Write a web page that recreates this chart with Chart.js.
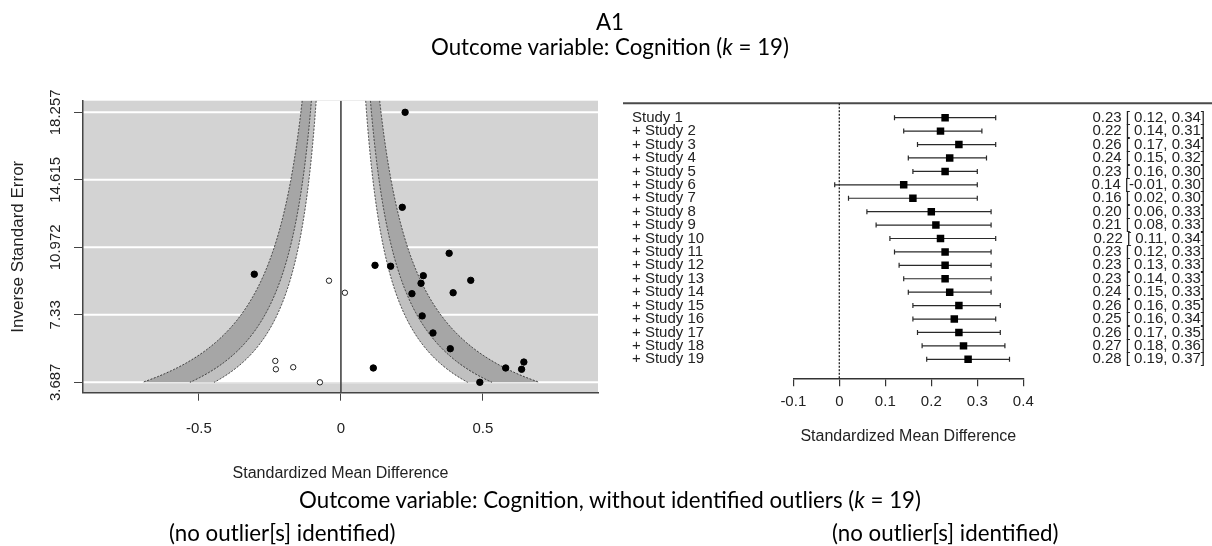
<!DOCTYPE html>
<html>
<head>
<meta charset="utf-8">
<script src="https://cdn.jsdelivr.net/npm/chart.js@4.4.1/dist/chart.umd.min.js"></script>
<style>
  html, body { margin:0; padding:0; background:#fff; }
  #wrap { position:relative; width:1212px; height:546px; overflow:hidden; }
  canvas { position:absolute; left:0; top:0; }
  .ttl { position:absolute; left:0; width:1220px; text-align:center; font-family:"Lato","Open Sans",sans-serif; font-size:22.3px; color:#000; line-height:26px; white-space:nowrap; }
  .sub { position:absolute; font-family:"Lato","Open Sans",sans-serif; font-size:22.3px; color:#000; line-height:26px; white-space:nowrap; }
</style>
</head>
<body>
<div id="wrap">
  <canvas id="funnel" width="1212" height="546"></canvas>
  <canvas id="forest" width="1212" height="546"></canvas>
  <div class="ttl" style="top:9px;">A1</div>
  <div class="ttl" style="top:34px;">Outcome variable: Cognition (<i>k</i> = 19)</div>
  <div class="ttl" style="top:487px;">Outcome variable: Cognition, without identified outliers (<i>k</i> = 19)</div>
  <div class="sub" style="top:520px; left:169px;">(no outlier[s] identified)</div>
  <div class="sub" style="top:520px; left:832px;">(no outlier[s] identified)</div>
</div>
<script>
// ---------------- DATA ----------------
// Funnel plot (trim-and-fill): observed studies
const observedX = [0.226, 0.216, 0.381, 0.120, 0.175, 0.290, 0.457, 0.282, 0.250, 0.395, 0.286, 0.324, 0.385, 0.114, 0.580, 0.644, 0.636, 0.489, -0.305];
const observedY = [18.257, 13.13, 10.65, 10.00, 9.95, 9.44, 9.19, 9.03, 8.47, 8.52, 7.27, 6.35, 5.50, 4.46, 4.46, 4.78, 4.39, 3.687, 9.52];
// Funnel plot: imputed (filled) studies
const imputedX = [-0.042, 0.014, -0.074, -0.231, -0.229, -0.168];
const imputedY = [9.17, 8.52, 3.687, 4.84, 4.39, 4.50];
// Funnel axis ticks
const funnelXTicks = [-0.5, 0, 0.5];
const funnelXTickLabels = ['-0.5', '0', '0.5'];
const funnelYTicks = [3.687, 7.33, 10.972, 14.615, 18.257];
const funnelYTickLabels = ['3.687', '7.33', '10.972', '14.615', '18.257'];
// Contour levels (z for 90%, 95%, 99%) centred at 0
const contourZ = [1.645, 1.96, 2.576];
const contourCenter = 0;

// Cumulative forest plot
const studyLabels = ['Study 1', '+ Study 2', '+ Study 3', '+ Study 4', '+ Study 5', '+ Study 6', '+ Study 7', '+ Study 8', '+ Study 9', '+ Study 10',
  '+ Study 11', '+ Study 12', '+ Study 13', '+ Study 14', '+ Study 15', '+ Study 16', '+ Study 17', '+ Study 18', '+ Study 19'];
const cumEst = [0.23, 0.22, 0.26, 0.24, 0.23, 0.14, 0.16, 0.20, 0.21, 0.22, 0.23, 0.23, 0.23, 0.24, 0.26, 0.25, 0.26, 0.27, 0.28];
const cumLow = [0.12, 0.14, 0.17, 0.15, 0.16, -0.01, 0.02, 0.06, 0.08, 0.11, 0.12, 0.13, 0.14, 0.15, 0.16, 0.16, 0.17, 0.18, 0.19];
const cumHigh = [0.34, 0.31, 0.34, 0.32, 0.30, 0.30, 0.30, 0.33, 0.33, 0.34, 0.33, 0.33, 0.33, 0.33, 0.35, 0.34, 0.35, 0.36, 0.37];
const forestXTicks = [-0.1, 0, 0.1, 0.2, 0.3, 0.4];
const forestXTickLabels = ['-0.1', '0', '0.1', '0.2', '0.3', '0.4'];

// ---------------- STYLE ----------------
const AX_FONT = 'Liberation Sans, Arial, sans-serif';
const TXT = '#222';
const BG = '#d3d3d3';
const BAND_INNER = '#c0c0c0';
const BAND_OUTER = '#a6a6a6';

function labelFor(ticks, labels, v) {
  const i = ticks.findIndex(t => Math.abs(t - v) < 1e-6);
  return i >= 0 ? labels[i] : '';
}

// ---------------- FUNNEL ----------------
const funnelPlugin = {
  id: 'funnelBg',
  beforeDraw(chart) {
    const {ctx, chartArea: a, scales: {x, y}} = chart;
    ctx.save();
    ctx.fillStyle = BG;
    ctx.fillRect(a.left, a.top, a.right - a.left, a.bottom - a.top);
    ctx.beginPath();
    ctx.rect(a.left, a.top, a.right - a.left, a.bottom - a.top);
    ctx.clip();
    // white reference lines
    ctx.strokeStyle = '#fff';
    ctx.lineWidth = 2;
    funnelYTicks.forEach(v => {
      const py = y.getPixelForValue(v);
      ctx.beginPath(); ctx.moveTo(a.left, py); ctx.lineTo(a.right, py); ctx.stroke();
    });
    const yMin = Math.min(...observedY, ...imputedY);
    const pyLow = y.getPixelForValue(yMin);
    const curve = (z, sign) => {
      const pts = [];
      for (let py = a.top; py < pyLow; py += 1) {
        const v = y.getValueForPixel(py);
        pts.push([x.getPixelForValue(contourCenter + sign * z / v), py]);
      }
      pts.push([x.getPixelForValue(contourCenter + sign * z / yMin), pyLow]);
      return pts;
    };
    const fills = [[contourZ[2], BAND_OUTER], [contourZ[1], BAND_INNER], [contourZ[0], '#ffffff']];
    fills.forEach(([z, col]) => {
      const r = curve(z, 1), l = curve(z, -1).reverse();
      ctx.beginPath();
      r.forEach((p, i) => i ? ctx.lineTo(p[0], p[1]) : ctx.moveTo(p[0], p[1]));
      l.forEach(p => ctx.lineTo(p[0], p[1]));
      ctx.closePath();
      ctx.fillStyle = col;
      ctx.fill();
    });
    ctx.setLineDash([2, 1.5]);
    ctx.strokeStyle = '#3a3a3a';
    ctx.lineWidth = 1;
    contourZ.forEach(z => {
      [1, -1].forEach(s => {
        const c = curve(z, s);
        ctx.beginPath();
        c.forEach((p, i) => i ? ctx.lineTo(p[0], p[1]) : ctx.moveTo(p[0], p[1]));
        ctx.stroke();
      });
    });
    ctx.setLineDash([]);
    // vertical reference line at 0
    const px0 = x.getPixelForValue(contourCenter);
    ctx.strokeStyle = '#444';
    ctx.lineWidth = 1.6;
    ctx.beginPath(); ctx.moveTo(px0, a.top); ctx.lineTo(px0, a.bottom); ctx.stroke();
    ctx.restore();
  }
};

new Chart(document.getElementById('funnel'), {
  type: 'scatter',
  data: {
    datasets: [
      { label: 'Observed studies', data: observedX.map((v, i) => ({x: v, y: observedY[i]})),
        pointRadius: 3.2, pointHoverRadius: 3.2, backgroundColor: '#000', borderColor: '#000', borderWidth: 1 },
      { label: 'Imputed studies', data: imputedX.map((v, i) => ({x: v, y: imputedY[i]})),
        pointRadius: 2.7, pointHoverRadius: 2.7, backgroundColor: '#fff', borderColor: '#222', borderWidth: 1 }
    ]
  },
  options: {
    responsive: false, animation: false, devicePixelRatio: 1,
    layout: { padding: { left: 0, right: 614, top: 100.7, bottom: 63.3 } },
    plugins: { legend: { display: false }, tooltip: { enabled: false } },
    scales: {
      x: {
        type: 'linear', min: -0.908, max: 0.905,
        afterBuildTicks: s => { s.ticks = funnelXTicks.map(v => ({value: v})); },
        afterFit: s => { s.height = 90; },
        ticks: { callback: v => labelFor(funnelXTicks, funnelXTickLabels, v), font: {family: AX_FONT, size: 15}, color: TXT, padding: 19, maxRotation: 0, autoSkip: false },
        grid: { drawOnChartArea: false, drawTicks: true, tickLength: 8, color: '#444', lineWidth: 1 },
        border: { display: true, color: '#444', width: 1.5 },
        title: { display: true, text: 'Standardized Mean Difference', font: {family: AX_FONT, size: 16}, color: TXT, padding: {top: 0, bottom: 0} }
      },
      y: {
        type: 'linear', min: 3.126, max: 18.883,
        afterBuildTicks: s => { s.ticks = funnelYTicks.map(v => ({value: v})); },
        afterFit: s => { s.width = 83; },
        ticks: { callback: v => labelFor(funnelYTicks, funnelYTickLabels, v), font: {family: AX_FONT, size: 15}, color: TXT, minRotation: 90, maxRotation: 90, crossAlign: 'center', padding: -5, autoSkip: false },
        grid: { drawOnChartArea: false, drawTicks: true, tickLength: 9, color: '#444', lineWidth: 1 },
        border: { display: true, color: '#444', width: 1.5 },
        title: { display: true, text: 'Inverse Standard Error', font: {family: AX_FONT, size: 17}, color: TXT, padding: {top: 8, bottom: 0} }
      }
    }
  },
  plugins: [funnelPlugin]
});

// ---------------- FOREST ----------------
const forestPlugin = {
  id: 'forestDecor',
  beforeDatasetsDraw(chart) {
    const {ctx, chartArea: a, scales: {x, y}} = chart;
    ctx.save();
    // top rule
    ctx.strokeStyle = '#4a4a4a';
    ctx.lineWidth = 2;
    ctx.beginPath(); ctx.moveTo(623, a.top); ctx.lineTo(1212, a.top); ctx.stroke();
    // dotted zero line
    const px0 = x.getPixelForValue(0);
    ctx.setLineDash([2, 1.5]);
    ctx.strokeStyle = '#222';
    ctx.lineWidth = 1.3;
    ctx.beginPath(); ctx.moveTo(px0, a.top); ctx.lineTo(px0, a.bottom); ctx.stroke();
    ctx.setLineDash([]);
    // CI whiskers
    ctx.strokeStyle = '#2a2a2a';
    ctx.lineWidth = 1.2;
    cumEst.forEach((e, i) => {
      const py = y.getPixelForValue(i + 1);
      const xl = x.getPixelForValue(cumLow[i]);
      const xh = x.getPixelForValue(cumHigh[i]);
      ctx.beginPath();
      ctx.moveTo(xl, py); ctx.lineTo(xh, py);
      ctx.moveTo(xl, py - 2.5); ctx.lineTo(xl, py + 2.5);
      ctx.moveTo(xh, py - 2.5); ctx.lineTo(xh, py + 2.5);
      ctx.stroke();
    });
    // labels and estimates
    ctx.font = '15px ' + AX_FONT;
    ctx.fillStyle = TXT;
    ctx.textBaseline = 'middle';
    studyLabels.forEach((lab, i) => {
      const py = y.getPixelForValue(i + 1);
      ctx.textAlign = 'left';
      ctx.fillText(lab, 632, py);
      const s = cumEst[i].toFixed(2) + ' [' + (cumLow[i] < 0 ? '' : ' ') + cumLow[i].toFixed(2) + ', ' + cumHigh[i].toFixed(2) + ']';
      ctx.textAlign = 'right';
      ctx.fillText(s, 1205, py);
    });
    ctx.restore();
  }
};

new Chart(document.getElementById('forest'), {
  type: 'scatter',
  data: {
    datasets: [{
      label: 'Cumulative estimate',
      data: cumEst.map((v, i) => ({x: v, y: i + 1})),
      pointStyle: 'rect', pointRadius: 5.3, pointHoverRadius: 5.3,
      backgroundColor: '#000', borderColor: '#000', borderWidth: 0
    }]
  },
  options: {
    responsive: false, animation: false, devicePixelRatio: 1,
    layout: { padding: { left: 793.3, right: 188.7, top: 103.3, bottom: 97.7 } },
    plugins: { legend: { display: false }, tooltip: { enabled: false } },
    scales: {
      x: {
        type: 'linear', min: -0.1, max: 0.4,
        afterBuildTicks: s => { s.ticks = forestXTicks.map(v => ({value: v})); },
        afterFit: s => { s.height = 70; },
        ticks: { callback: v => labelFor(forestXTicks, forestXTickLabels, v), font: {family: AX_FONT, size: 15}, color: TXT, padding: 7, maxRotation: 0, autoSkip: false },
        grid: { drawOnChartArea: false, drawTicks: true, tickLength: 8, color: '#333', lineWidth: 1.2 },
        border: { display: true, color: '#333', width: 1.5 },
        title: { display: true, text: 'Standardized Mean Difference', font: {family: AX_FONT, size: 16}, color: TXT, padding: {top: 0, bottom: 2.3} }
      },
      y: { type: 'linear', display: false, reverse: true, min: -0.073, max: 20.416 }
    }
  },
  plugins: [forestPlugin]
});
</script>
</body>
</html>
